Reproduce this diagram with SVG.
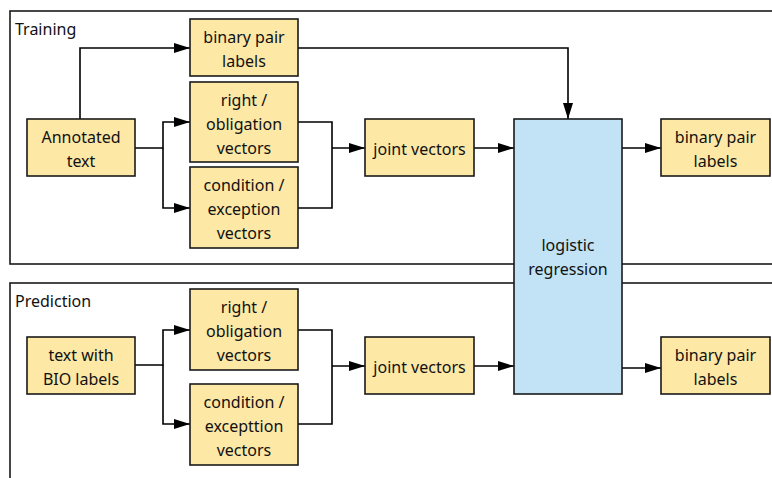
<svg xmlns="http://www.w3.org/2000/svg" width="772" height="478" viewBox="0 0 772 478">
  <style>
    .frame { fill: none; stroke: #1a1a1a; stroke-width: 1.6; }
    .box { fill: #FDE8A6; stroke: #1a1a1a; stroke-width: 1.6; }
    .model { fill: #C2E3F5; stroke: #1a1a1a; stroke-width: 1.6; }
    .wire { fill: none; stroke: #000; stroke-width: 1.6; }
    text { font-family: "Noto Sans", "Open Sans", sans-serif; font-size: 16px; fill: #111; }
    .c { text-anchor: middle; }
  </style>
  <defs>
    <marker id="arrow" viewBox="0 0 16 10" refX="16" refY="5" markerWidth="16" markerHeight="10" markerUnits="userSpaceOnUse" orient="auto">
      <path d="M0,0 L16,5 L0,10 Z" fill="#000"/>
    </marker>
  </defs>

  <!-- stage frames -->
  <g id="training-frame">
    <rect class="frame" x="10" y="11" width="780" height="253"/>
    <text x="15" y="35">Training</text>
  </g>
  <g id="prediction-frame">
    <rect class="frame" x="10" y="283" width="780" height="220"/>
    <text x="15" y="307">Prediction</text>
  </g>

  <!-- connectors -->
  <g id="connectors">
    <path class="wire" d="M80,119 V48 H190" marker-end="url(#arrow)"/>
    <path class="wire" d="M135,148 H163 V122 H190" marker-end="url(#arrow)"/>
    <path class="wire" d="M163,148 V208 H190" marker-end="url(#arrow)"/>
    <path class="wire" d="M298,48 H568 V119" marker-end="url(#arrow)"/>
    <path class="wire" d="M298,122 H332 V208 H298"/>
    <path class="wire" d="M332,148 H365" marker-end="url(#arrow)"/>
    <path class="wire" d="M474,148 H514" marker-end="url(#arrow)"/>
    <path class="wire" d="M622,148 H661" marker-end="url(#arrow)"/>

    <path class="wire" d="M135,365 H163 V330 H190" marker-end="url(#arrow)"/>
    <path class="wire" d="M163,365 V424 H190" marker-end="url(#arrow)"/>
    <path class="wire" d="M298,330 H332 V424 H298"/>
    <path class="wire" d="M332,366 H365" marker-end="url(#arrow)"/>
    <path class="wire" d="M474,366 H514" marker-end="url(#arrow)"/>
    <path class="wire" d="M622,368 H661" marker-end="url(#arrow)"/>
  </g>

  <!-- training nodes -->
  <g id="annotated-text">
    <rect class="box" x="27" y="119" width="108" height="57"/>
    <text class="c" x="81" y="143">Annotated</text>
    <text class="c" x="81" y="167">text</text>
  </g>
  <g id="train-pair-labels">
    <rect class="box" x="190" y="19" width="108" height="57"/>
    <text class="c" x="244" y="43">binary pair</text>
    <text class="c" x="244" y="67">labels</text>
  </g>
  <g id="train-right-obligation">
    <rect class="box" x="190" y="82" width="108" height="80"/>
    <text class="c" x="244" y="106">right /</text>
    <text class="c" x="244" y="130">obligation</text>
    <text class="c" x="244" y="154">vectors</text>
  </g>
  <g id="train-condition-exception">
    <rect class="box" x="190" y="167" width="108" height="81"/>
    <text class="c" x="244" y="191">condition /</text>
    <text class="c" x="244" y="215">exception</text>
    <text class="c" x="244" y="239">vectors</text>
  </g>
  <g id="train-joint-vectors">
    <rect class="box" x="365" y="119" width="109" height="57"/>
    <text class="c" x="419.5" y="155">joint vectors</text>
  </g>
  <g id="train-output-labels">
    <rect class="box" x="661" y="119" width="109" height="57"/>
    <text class="c" x="715.5" y="143">binary pair</text>
    <text class="c" x="715.5" y="167">labels</text>
  </g>

  <!-- shared model -->
  <g id="logistic-regression">
    <rect class="model" x="514" y="119" width="108" height="275"/>
    <text class="c" x="568" y="251">logistic</text>
    <text class="c" x="568" y="275">regression</text>
  </g>

  <!-- prediction nodes -->
  <g id="bio-text">
    <rect class="box" x="27" y="337" width="108" height="57"/>
    <text class="c" x="81" y="361">text with</text>
    <text class="c" x="81" y="385">BIO labels</text>
  </g>
  <g id="pred-right-obligation">
    <rect class="box" x="190" y="289" width="108" height="81"/>
    <text class="c" x="244" y="313">right /</text>
    <text class="c" x="244" y="337">obligation</text>
    <text class="c" x="244" y="361">vectors</text>
  </g>
  <g id="pred-condition-exception">
    <rect class="box" x="190" y="384" width="108" height="81"/>
    <text class="c" x="244" y="408">condition /</text>
    <text class="c" x="244" y="432">excepttion</text>
    <text class="c" x="244" y="456">vectors</text>
  </g>
  <g id="pred-joint-vectors">
    <rect class="box" x="365" y="337" width="109" height="57"/>
    <text class="c" x="419.5" y="373">joint vectors</text>
  </g>
  <g id="pred-output-labels">
    <rect class="box" x="661" y="337" width="109" height="57"/>
    <text class="c" x="715.5" y="361">binary pair</text>
    <text class="c" x="715.5" y="385">labels</text>
  </g>
</svg>
